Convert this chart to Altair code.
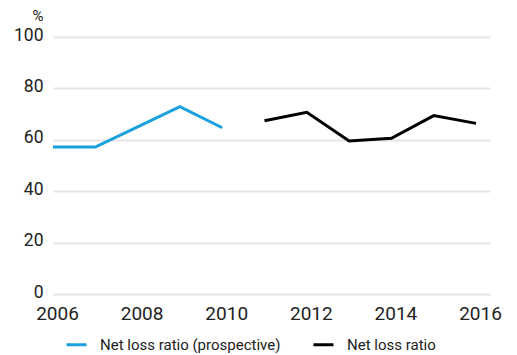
import altair as alt
import pandas as pd

# Net loss ratio series, in percent
prospective_years = [2006, 2007, 2008, 2009, 2010]
prospective_values = [57.2, 57.2, 65.0, 72.9, 64.7]
actual_years = [2011, 2012, 2013, 2014, 2015, 2016]
actual_values = [67.4, 70.7, 59.5, 60.6, 69.4, 66.4]

series_names = ["Net loss ratio (prospective)", "Net loss ratio"]
series_colors = ["#1aa0dc", "#000000"]
x_ticks = [2006, 2008, 2010, 2012, 2014, 2016]
y_ticks = [0, 20, 40, 60, 80, 100]

df = pd.concat([
    pd.DataFrame({"year": prospective_years, "value": prospective_values, "series": series_names[0]}),
    pd.DataFrame({"year": actual_years, "value": actual_values, "series": series_names[1]}),
])

FONT = "Roboto"

chart = alt.Chart(df).mark_line(strokeWidth=3).encode(
    x=alt.X("year:Q",
            scale=alt.Scale(domain=[2006, 2016.33], nice=False, zero=False),
            axis=alt.Axis(values=x_ticks, format="d", grid=False, domain=False, ticks=False,
                          labelPadding=10, labelOffset=4, labelFontSize=19, labelColor="#222",
                          labelFont=FONT, title=None,
                          labelOverlap=False, labelFlush=False)),
    y=alt.Y("value:Q",
            scale=alt.Scale(domain=[0, 100], nice=False),
            axis=alt.Axis(values=y_ticks, grid=True, gridColor="#e6e6e6", gridWidth=2,
                          domain=False, ticks=False, labelPadding=10, labelFontSize=17.5,
                          labelOffset=-2, labelColor="#222", labelFont=FONT,
                          title="%", titleAngle=0, titleAlign="right", titleBaseline="middle",
                          titleX=-10, titleY=-22, titleFontSize=15, titleFontWeight="normal",
                          titleFont=FONT, titleColor="#222")),
    color=alt.Color("series:N",
                    scale=alt.Scale(domain=series_names, range=series_colors),
                    legend=alt.Legend(orient="none", legendX=12, legendY=296, direction="horizontal",
                                      title=None, symbolType="stroke", symbolStrokeWidth=3,
                                      symbolSize=400, labelFontSize=15, labelFont=FONT,
                                      labelColor="#222", labelOffset=12, columnPadding=26,
                                      labelLimit=400)),
).properties(
    width=437, height=257,
    autosize=alt.AutoSizeParams(type="none"),
    padding={"left": 53, "top": 37, "right": 27, "bottom": 61},
).configure_view(stroke=None)

chart.save("out.html", embed_options={"renderer": "svg", "actions": False})
